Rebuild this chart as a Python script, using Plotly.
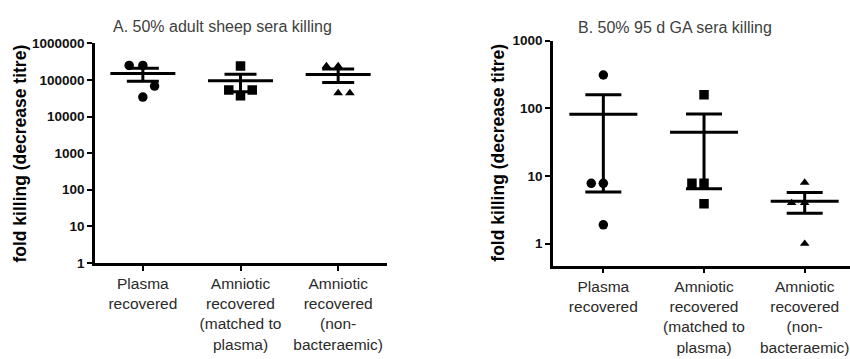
import numpy as np
import plotly.graph_objects as go

W, H = 850, 359

categories = ["Plasma<br>recovered",
              "Amniotic<br>recovered<br>(matched to<br>plasma)",
              "Amniotic<br>recovered<br>(non-<br>bacteraemic)"]

# Panel A: 50% adult sheep sera killing
a_plasma = [250000, 250000, 68000, 34000]
a_matched = [240000, 53000, 53000, 37000]
a_nonbact = [240000, 240000, 44000, 44000]
# Panel B: 50% 95 d GA sera killing
b_plasma = [310, 7.8, 7.8, 1.9]
b_matched = [158, 7.8, 7.8, 3.9]
b_nonbact = [8, 4, 4, 1]

# horizontal jitter of the points (category units)
a_jitter = [[-0.14, 0, 0.12, 0], [0, -0.12, 0.12, 0], [-0.12, 0, 0, 0.12]]
b_jitter = [[0, -0.12, 0, 0], [0, -0.12, 0, 0], [0, -0.13, 0, 0]]

symbols = ["circle", "square", "triangle-up"]
marker_sizes = [9.5, 9.5, 8.5]

y_ticks_a = [1, 10, 100, 1000, 10000, 100000, 1000000]
y_ticks_b = [1, 10, 100, 1000]

fig = go.Figure()

def add_panel(groups, jitter, xa, ya, mean_w, cap_w):
    for i, (vals, jit) in enumerate(zip(groups, jitter)):
        v = np.array(vals, dtype=float)
        m = v.mean()
        sem = v.std(ddof=1) / np.sqrt(len(v))
        fig.add_trace(go.Scatter(
            x=[i + j for j in jit], y=vals, mode="markers",
            marker=dict(symbol=symbols[i], size=marker_sizes[i], color="black"),
            xaxis=xa, yaxis=ya, showlegend=False, hoverinfo="y"))
        fig.add_trace(go.Scatter(
            x=[i], y=[m], mode="markers",
            marker=dict(symbol="line-ew-open", size=mean_w / 1.4, color="black",
                        line=dict(color="black", width=3)),
            error_y=dict(type="data", symmetric=True, array=[sem],
                         color="black", thickness=3, width=cap_w),
            xaxis=xa, yaxis=ya, showlegend=False, hoverinfo="y"))

add_panel([a_plasma, a_matched, a_nonbact], a_jitter, "x", "y", 65, 16)
add_panel([b_plasma, b_matched, b_nonbact], b_jitter, "x2", "y2", 68, 18)

tickfont_y = dict(family="Liberation Sans, Arial", size=13.5, color="#111", weight="bold")
tickfont_x = dict(family="Liberation Sans, Arial", size=15.5, color="#2a2a2a")

def px_x(p):
    return p / W

def px_y(p):
    return 1 - p / H

common_x = dict(tickmode="array", tickvals=[0, 1, 2], ticktext=categories,
                showline=True, linecolor="black", linewidth=2.5,
                ticks="outside", ticklen=5, tickwidth=2, tickcolor="black",
                showgrid=False, zeroline=False, tickfont=tickfont_x,
                fixedrange=True)
common_y = dict(type="log", tickmode="array",
                showline=True, linecolor="black", linewidth=2.5,
                ticks="outside", ticklen=5, tickwidth=2, tickcolor="black",
                showgrid=False, zeroline=False, tickfont=tickfont_y,
                fixedrange=True)

fig.update_layout(
    width=W, height=H,
    margin=dict(l=0, r=0, t=0, b=0),
    paper_bgcolor="white", plot_bgcolor="white",
    xaxis=dict(common_x, domain=[px_x(95), px_x(387)], range=[-0.49, 2.5], anchor="y"),
    yaxis=dict(common_y, domain=[px_y(267), px_y(38)], range=[0, 6], anchor="x",
               tickvals=y_ticks_a, ticktext=[str(t) for t in y_ticks_a]),
    xaxis2=dict(common_x, domain=[px_x(553), 1.0], range=[-0.5, 2.45], anchor="y2"),
    yaxis2=dict(common_y, domain=[px_y(270), px_y(35)], range=[-0.325, 3], anchor="x2",
                tickvals=y_ticks_b, ticktext=[str(t) for t in y_ticks_b]),
)

title_font = dict(family="Liberation Sans, Arial", size=16, color="#404040")
axtitle_font = dict(family="Liberation Sans, Arial", size=17.5, color="black", weight="bold")

fig.add_annotation(text="A. 50% adult sheep sera killing", x=px_x(222), y=px_y(20),
                   xref="paper", yref="paper", showarrow=False, font=title_font,
                   xanchor="center", yanchor="middle")
fig.add_annotation(text="B. 50% 95 d GA sera killing", x=px_x(675), y=px_y(21),
                   xref="paper", yref="paper", showarrow=False, font=title_font,
                   xanchor="center", yanchor="middle")
fig.add_annotation(text="fold killing (decrease titre)", x=px_x(20), y=px_y(153),
                   xref="paper", yref="paper", showarrow=False, font=axtitle_font,
                   textangle=-90, xanchor="center", yanchor="middle")
fig.add_annotation(text="fold killing (decrease titre)", x=px_x(498), y=px_y(152),
                   xref="paper", yref="paper", showarrow=False, font=axtitle_font,
                   textangle=-90, xanchor="center", yanchor="middle")

fig.write_html("out.html")
